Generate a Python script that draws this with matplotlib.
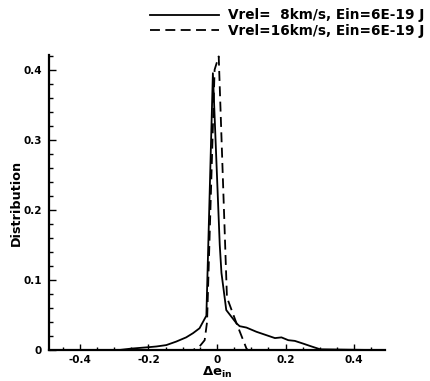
import numpy as np
import matplotlib
matplotlib.use('Agg')
import matplotlib.pyplot as plt
from matplotlib.ticker import MultipleLocator, FuncFormatter

plt.rcParams['font.family'] = ['DejaVu Sans']
plt.rcParams['font.weight'] = 'bold'
plt.rcParams['mathtext.fontset'] = 'dejavusans'
plt.rcParams['mathtext.default'] = 'bf'

# Vrel = 8 km/s
x8 = [-0.30, -0.285, -0.25, -0.20, -0.177, -0.148, -0.119, -0.090, -0.070,
      -0.051, -0.031, -0.012, 0.008, 0.013, 0.027, 0.057, 0.066, 0.086,
      0.115, 0.145, 0.169, 0.188, 0.208, 0.227, 0.252, 0.276, 0.301, 0.45]
y8 = [0.0, 0.0, 0.002, 0.004, 0.005, 0.007, 0.012, 0.018, 0.024,
      0.031, 0.049, 0.395, 0.150, 0.110, 0.057, 0.038, 0.034, 0.032,
      0.026, 0.021, 0.017, 0.018, 0.014, 0.013, 0.009, 0.005, 0.001, 0.0]

# Vrel = 16 km/s
x16 = [-0.45, -0.070, -0.051, -0.036, -0.029, -0.007, 0.005, 0.029,
       0.057, 0.086, 0.090, 0.45]
y16 = [0.0, 0.0, 0.005, 0.014, 0.040, 0.400, 0.419, 0.075,
       0.038, 0.002, 0.0, 0.0]

labels = ['Vrel=  8km/s, Ein=6E-19 J', 'Vrel=16km/s, Ein=6E-19 J']

fig = plt.figure(figsize=(4.30, 3.81), dpi=100)
ax = fig.add_axes([49/430, 1-350/381, 336/430, 295/381])

l1, = ax.plot(x8, y8, color='k', lw=1.3)
l2, = ax.plot(x16, y16, color='k', lw=1.3, dashes=(5.5, 3))

ax.set_xlim(-0.49, 0.49)
ax.set_ylim(0, 0.421)
ax.spines['top'].set_visible(False)
ax.spines['right'].set_visible(False)
ax.spines['left'].set_linewidth(1.6)
ax.spines['bottom'].set_linewidth(1.6)

ax.xaxis.set_major_locator(MultipleLocator(0.2))
ax.xaxis.set_minor_locator(MultipleLocator(0.05))
ax.yaxis.set_major_locator(MultipleLocator(0.1))
ax.yaxis.set_minor_locator(MultipleLocator(0.02))
fmt = FuncFormatter(lambda v, p: '0' if abs(v) < 1e-9 else ('%.1f' % v))
ax.xaxis.set_major_formatter(fmt)
ax.yaxis.set_major_formatter(fmt)
ax.tick_params(which='both', direction='in', width=1.0, labelsize=7.5)
ax.tick_params(axis='x', which='major', length=4.5, pad=3.5)
ax.tick_params(axis='x', which='minor', length=2.5)
ax.tick_params(axis='y', which='major', length=5, pad=5)
ax.tick_params(axis='y', which='minor', length=3)
for t in ax.get_xticklabels() + ax.get_yticklabels():
    t.set_fontweight('bold')

ax.set_ylabel('Distribution', fontsize=9.2, fontweight='bold', va='center')
ax.yaxis.set_label_coords((16.5 - 49) / 336, 0.5)
ax.set_xlabel(r'$\Delta e_{in}$', fontsize=9.5, va='top')
ax.xaxis.set_label_coords(0.5, -0.052)

fig.legend([l1, l2], labels, loc='upper left', bbox_to_anchor=(150/430, 0.978),
           frameon=False, handlelength=5.1, handletextpad=0.66,
           labelspacing=0.1, borderpad=0, borderaxespad=0,
           prop={'weight': 'bold', 'size': 9.8})

fig.savefig('out.png', dpi=100)
